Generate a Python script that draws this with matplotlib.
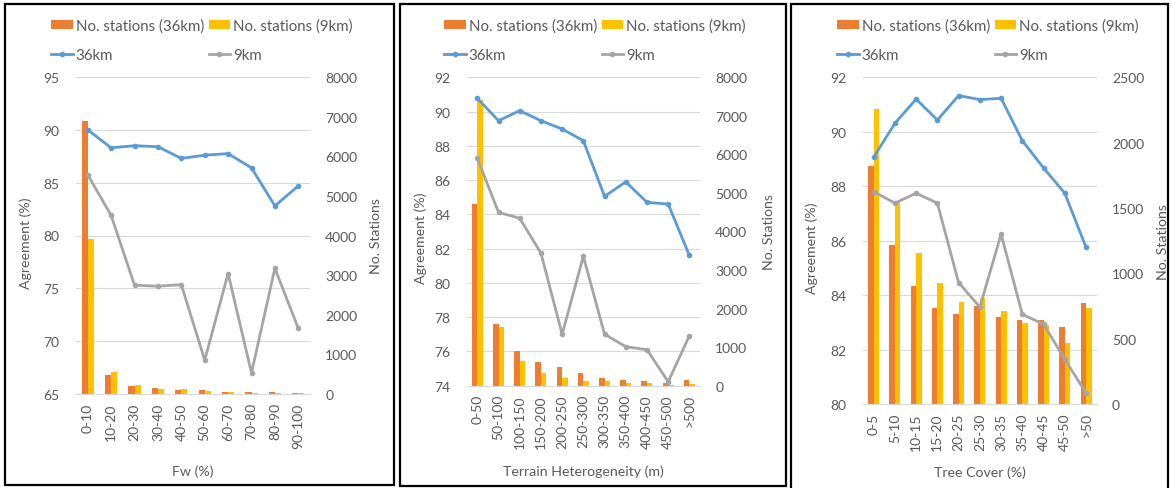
import matplotlib
matplotlib.use("Agg")
import matplotlib.pyplot as plt
from matplotlib.patches import Rectangle
import numpy as np

plt.rcParams['font.family'] = ['Lato', 'DejaVu Sans']

# ---- data ----
fw_cats = ["0-10", "10-20", "20-30", "30-40", "40-50", "50-60", "60-70", "70-80", "80-90", "90-100"]
fw_agree_36 = [90.0, 88.3, 88.5, 88.4, 87.3, 87.6, 87.75, 86.4, 82.8, 84.7]
fw_agree_9 = [85.75, 81.9, 75.3, 75.2, 75.35, 68.2, 76.4, 67.0, 76.9, 71.2]
fw_n_36 = [6900, 480, 210, 160, 95, 90, 60, 60, 50, 35]
fw_n_9 = [3900, 560, 220, 135, 118, 80, 55, 30, 15, 30]

th_cats = ["0-50", "50-100", "100-150", "150-200", "200-250", "250-300", "300-350",
           "350-400", "400-450", "450-500", ">500"]
th_agree_36 = [90.77, 89.47, 90.05, 89.47, 88.98, 88.3, 85.05, 85.9, 84.7, 84.6, 81.6]
th_agree_9 = [87.27, 84.12, 83.77, 81.74, 77.0, 81.55, 77.0, 76.28, 76.1, 74.23, 76.92]
th_n_36 = [4710, 1600, 910, 610, 480, 320, 190, 150, 120, 60, 150]
th_n_9 = [7400, 1515, 635, 340, 190, 130, 130, 70, 70, 10, 40]

tc_cats = ["0-5", "5-10", "10-15", "15-20", "20-25", "25-30", "30-35", "35-40",
           "40-45", "45-50", ">50"]
tc_agree_36 = [89.06, 90.31, 91.2, 90.43, 91.33, 91.18, 91.23, 89.67, 88.67, 87.74, 85.75]
tc_agree_9 = [87.8, 87.38, 87.74, 87.38, 84.46, 83.56, 86.24, 83.29, 82.93, 81.64, 80.4]
tc_n_36 = [1820, 1217, 905, 735, 686, 748, 663, 645, 645, 587, 771]
tc_n_9 = [2257, 1543, 1155, 924, 783, 814, 709, 617, 605, 467, 732]

# ---- style ----
W, H = 1172, 489
TEXT = "#595959"
GRID = "#D9D9D9"
ORANGE = "#ED7D31"
YELLOW = "#FFC000"
BLUE = "#5B9BD5"
GREY = "#A5A5A5"
FS_TICK = 10.0
FS_LABEL = 10.2
FS_LEG = 10.8

fig = plt.figure(figsize=(W / 100, H / 100), dpi=100)


def px_axes(left, top, right, bottom):
    return fig.add_axes([left / W, 1 - bottom / H, (right - left) / W, (bottom - top) / H])


def panel(box, frame, legend_x, cats, a36, a9, n36, n9, ylim, yticks, nlim, nticks,
          xlabel, label_pos):
    ax_bar = px_axes(*box)
    ax_line = ax_bar.twinx()

    x = np.arange(len(cats))
    bw = 0.26
    ax_bar.bar(x - bw / 2, n36, width=bw, color=ORANGE, zorder=2, label="No. stations (36km)")
    ax_bar.bar(x + bw / 2, n9, width=bw, color=YELLOW, zorder=2, label="No. stations (9km)")
    ax_bar.set_ylim(*nlim)
    ax_bar.set_xlim(-0.5, len(cats) - 0.5)

    # horizontal gridlines at the agreement ticks, behind the bars
    for v in yticks[1:]:
        f = (v - ylim[0]) / (ylim[1] - ylim[0])
        ax_bar.plot([0, 1], [f, f], transform=ax_bar.transAxes, color=GRID, lw=0.8, zorder=0)

    ax_line.plot(x, a36, color=BLUE, lw=2.0, marker="o", ms=3.0, label="36km", zorder=3)
    ax_line.plot(x, a9, color=GREY, lw=2.0, marker="o", ms=3.0, label="9km", zorder=3)
    ax_line.set_ylim(*ylim)

    # right axis: station counts, left axis: agreement
    ax_bar.yaxis.tick_right()
    ax_bar.yaxis.set_label_position("right")
    ax_line.yaxis.tick_left()
    ax_line.yaxis.set_label_position("left")
    ax_bar.set_yticks(nticks)
    ax_line.set_yticks(yticks)

    for a in (ax_bar, ax_line):
        for s in a.spines.values():
            s.set_visible(False)
        a.tick_params(length=0, colors=TEXT, labelsize=FS_TICK)
    ax_bar.spines["bottom"].set_visible(True)
    ax_bar.spines["bottom"].set_color(GRID)
    ax_bar.spines["bottom"].set_linewidth(0.8)
    ax_bar.tick_params(axis="y", pad=11)
    ax_line.tick_params(axis="y", pad=12)
    ax_bar.set_xticks(x)
    ax_bar.set_xticklabels(cats, rotation=90)
    ax_bar.tick_params(axis="x", pad=6)

    lx, rx, xl = label_pos
    ax_line.set_ylabel("Agreement (%)", color=TEXT, fontsize=FS_LABEL)
    ax_line.yaxis.set_label_coords(lx, 0.48)
    ax_bar.set_ylabel("No. Stations", color=TEXT, fontsize=FS_LABEL)
    ax_bar.yaxis.set_label_coords(rx, 0.5)
    ax_bar.set_xlabel(xlabel, color=TEXT, fontsize=FS_LABEL)
    ax_bar.xaxis.set_label_coords(0.5, xl)

    hb, lb = ax_bar.get_legend_handles_labels()
    hl, ll = ax_line.get_legend_handles_labels()
    handles = [hb[0], hl[0], hb[1], hl[1]]
    labels = [lb[0], ll[0], lb[1], ll[1]]
    fig.legend(handles, labels, ncol=2, loc="upper left",
               bbox_to_anchor=(legend_x / W, 1 - 19 / H), frameon=False,
               fontsize=FS_LEG, labelcolor=TEXT, handlelength=1.45, handleheight=0.55,
               handletextpad=0.2, columnspacing=0.3, labelspacing=1.03,
               borderpad=0, borderaxespad=0)

    l, t, r, b = frame
    fig.add_artist(Rectangle((l / W, 1 - b / H), (r - l) / W, (b - t) / H,
                             transform=fig.transFigure, fill=False,
                             edgecolor="black", lw=1.6))


panel((76, 78, 310, 395), (5, 5, 394, 486), 51,
      fw_cats, fw_agree_36, fw_agree_9, fw_n_36, fw_n_9,
      (65, 95), [65, 70, 75, 80, 85, 90, 95], (0, 8000), range(0, 8001, 1000),
      "Fw (%)", (-0.188, 1.256, -0.221))

panel((466.7, 78.3, 700, 386.7), (400, 5, 786, 487), 444,
      th_cats, th_agree_36, th_agree_9, th_n_36, th_n_9,
      (74, 92), list(range(74, 93, 2)), (0, 8000), range(0, 8001, 1000),
      "Terrain Heterogeneity (m)", (-0.17, 1.27, -0.254))

panel((863, 78.3, 1096.7, 405), (791, 5, 1168, 495), 837,
      tc_cats, tc_agree_36, tc_agree_9, tc_n_36, tc_n_9,
      (80, 92), list(range(80, 93, 2)), (0, 2500), range(0, 2501, 500),
      "Tree Cover (%)", (-0.193, 1.26, -0.189))

fig.savefig("out.png", dpi=100)
